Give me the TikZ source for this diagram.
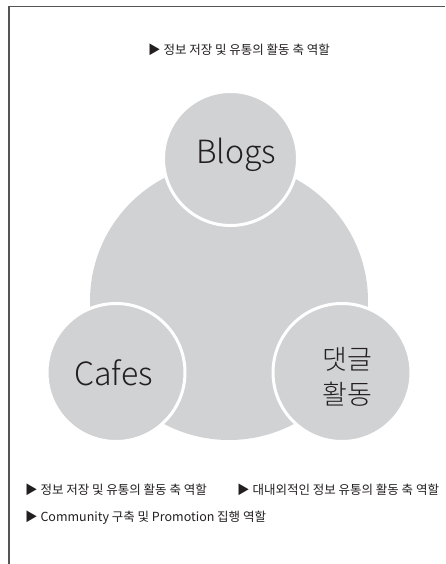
\documentclass[tikz,border=0pt]{standalone}
\usepackage{fontspec}
\setmainfont{Noto Sans CJK KR}
\newfontfamily\lightfont{Noto Sans CJK KR Light}
\definecolor{bubblegray}{HTML}{D1D2D4}
\definecolor{inkgray}{HTML}{231F20}
\definecolor{framegray}{HTML}{555555}
\tikzset{
  framestyle/.style={draw=framegray, line width=1.4pt},
  bigbubble/.style={fill=bubblegray},
  smallbubble/.style={circle, fill=bubblegray, draw=white, line width=3pt, inner sep=0pt},
  bigword/.style={text=inkgray, font=\lightfont\fontsize{32}{40}\selectfont, inner sep=0pt},
  krword/.style={text=inkgray, font=\lightfont\fontsize{27}{35}\selectfont, align=center, inner sep=0pt},
  note/.style={text=inkgray, font=\fontsize{12.5}{14}\selectfont, inner sep=0pt, anchor=west}
}
\begin{document}
\begin{tikzpicture}[x=1pt,y=-1pt]
\useasboundingbox (0,0) rectangle (445,564);
\coordinate (fbl) at (9,564);
\coordinate (ftl) at (9,6.5);
\coordinate (ftr) at (445,6.5);
\draw[framestyle] (fbl) -- (ftl) -- (ftr);
\node[note] (topnote) at (148,50) {▶ 정보 저장 및 유통의 활동 축 역할};
\fill[bigbubble] (229,301) circle (139);
\node[smallbubble, minimum size=134pt] (blogs) at (230.5,158.5) {};
\node[smallbubble, minimum size=138pt] (cafes) at (116,372.5) {};
\node[smallbubble, minimum size=138pt] (reply) at (342,372.5) {};
\node[bigword] (blogstext) at (236,155) {Blogs};
\node[bigword] (cafestext) at (113.5,373) {Cafes};
\node[krword] (replytext) at (347,377) {댓글\\활동};
\node[note] (note1) at (25,490) {▶ 정보 저장 및 유통의 활동 축 역할};
\node[note] (note2) at (237,490) {▶ 대내외적인 정보 유통의 활동 축 역할};
\node[note] (note3) at (25,518) {▶ Community 구축 및 Promotion 집행 역할};
\end{tikzpicture}
\end{document}
